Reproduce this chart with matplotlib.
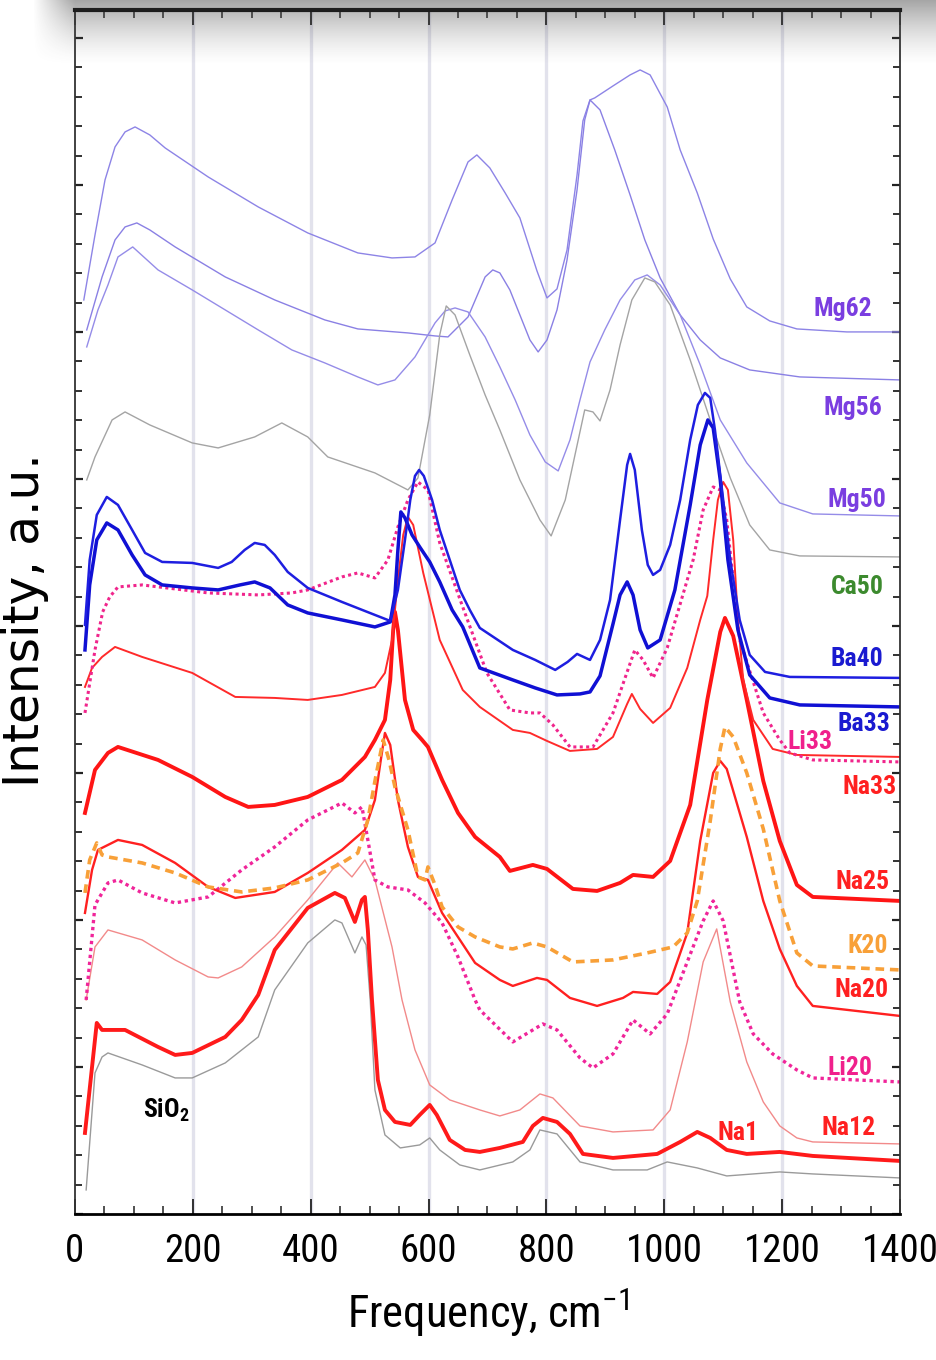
import matplotlib.pyplot as plt
import numpy as np
from matplotlib.ticker import MultipleLocator

plt.rcParams['font.family'] = ['Roboto Condensed', 'Liberation Sans Narrow', 'Liberation Sans', 'DejaVu Sans']

# Raman spectra, stacked (frequency in cm-1, intensity in a.u. incl. offset)
mg62_f = [15, 34, 51, 68, 85, 102, 127, 153, 226, 311, 395, 480, 538, 577, 611, 640, 667, 682, 704, 730, 755,
          784, 801, 818, 835, 852, 862, 874, 882, 913, 942, 959, 976, 1005, 1027, 1056, 1083, 1112, 1140, 1179,
          1225, 1310, 1400]
mg62_i = [914, 979, 1034, 1067, 1082, 1087, 1079, 1066, 1037, 1007, 981, 961, 956, 957, 971, 1014, 1052, 1059,
          1046, 1021, 996, 943, 916, 925, 964, 1039, 1093, 1114, 1116, 1128, 1139, 1144, 1139, 1107, 1064, 1021,
          975, 935, 907, 893, 885, 882, 882]

mg56_f = [20, 46, 68, 85, 105, 127, 170, 255, 339, 424, 480, 565, 611, 633, 667, 696, 709, 721, 738, 755, 772,
          786, 801, 818, 835, 852, 865, 874, 891, 916, 942, 967, 993, 1027, 1061, 1095, 1145, 1230, 1400]
mg56_i = [884, 937, 974, 987, 991, 984, 967, 937, 914, 894, 885, 881, 878, 877, 897, 937, 944, 941, 924, 899,
          874, 862, 874, 904, 954, 1024, 1094, 1114, 1104, 1064, 1019, 974, 936, 899, 874, 856, 844, 837, 834]

mg50_f = [20, 39, 56, 73, 98, 141, 199, 255, 311, 368, 424, 480, 514, 543, 577, 611, 628, 645, 667, 696, 721,
          747, 772, 798, 820, 840, 857, 874, 899, 925, 950, 971, 993, 1027, 1061, 1095, 1140, 1196, 1252, 1400]
mg50_i = [867, 904, 929, 957, 967, 944, 924, 904, 884, 864, 851, 837, 829, 834, 857, 891, 903, 906, 902, 877,
          847, 814, 779, 752, 743, 774, 814, 852, 884, 914, 934, 939, 929, 899, 849, 794, 751, 711, 700, 698]

ca50_f = [20, 34, 63, 85, 127, 199, 243, 305, 351, 395, 429, 509, 565, 582, 602, 619, 630, 645, 670, 696, 721,
          755, 789, 808, 832, 854, 865, 879, 891, 908, 925, 945, 967, 984, 1010, 1044, 1078, 1112, 1145, 1179,
          1230, 1400]
ca50_i = [734, 757, 794, 802, 789, 771, 766, 777, 791, 777, 757, 741, 724, 736, 799, 879, 908, 899, 859, 819,
          784, 734, 694, 678, 714, 774, 804, 802, 793, 824, 869, 914, 936, 932, 909, 854, 794, 736, 689, 664,
          658, 657]

ba40_f = [17, 25, 37, 54, 73, 97, 119, 148, 199, 243, 266, 288, 305, 322, 339, 361, 395, 453, 509, 535, 548,
          560, 569, 577, 584, 592, 606, 619, 636, 653, 670, 687, 743, 781, 815, 836, 852, 874, 891, 908, 925,
          937, 942, 950, 962, 972, 981, 993, 1010, 1027, 1044, 1057, 1069, 1078, 1086, 1098, 1112, 1128, 1145,
          1171, 1213, 1400]
ba40_i = [589, 654, 699, 717, 709, 684, 661, 652, 651, 646, 652, 664, 671, 669, 659, 642, 626, 612, 599, 593,
          624, 674, 714, 738, 744, 738, 714, 684, 654, 624, 604, 586, 564, 554, 544, 552, 560, 554, 574, 614,
          694, 749, 760, 744, 684, 649, 639, 644, 669, 714, 774, 809, 821, 816, 784, 724, 654, 594, 559, 542,
          537, 536]

ba33_f = [17, 25, 37, 54, 73, 97, 119, 148, 199, 243, 280, 305, 331, 361, 395, 453, 509, 535, 543, 548, 553,
          560, 572, 585, 602, 619, 640, 658, 687, 743, 781, 818, 857, 874, 891, 913, 925, 937, 947, 959, 972,
          993, 1018, 1044, 1061, 1074, 1083, 1095, 1108, 1125, 1145, 1179, 1230, 1400]
ba33_i = [564, 629, 674, 691, 684, 659, 639, 629, 626, 624, 629, 632, 626, 609, 601, 594, 587, 592, 619, 664,
          702, 696, 679, 667, 652, 632, 604, 587, 546, 534, 526, 519, 520, 522, 538, 590, 619, 632, 619, 584,
          566, 574, 624, 709, 769, 794, 786, 734, 654, 584, 539, 516, 509, 507]

li33_f = [17, 34, 47, 59, 73, 114, 226, 311, 368, 395, 453, 480, 509, 531, 548, 565, 582, 599, 619, 658, 699,
          738, 772, 789, 811, 840, 879, 913, 937, 950, 964, 981, 1005, 1027, 1049, 1066, 1083, 1095, 1106, 1117,
          1128, 1168, 1196, 1213, 1252, 1400]
li33_i = [501, 564, 602, 617, 627, 629, 621, 619, 621, 624, 637, 641, 636, 654, 687, 714, 732, 724, 671, 607,
          541, 504, 501, 501, 489, 467, 467, 501, 542, 564, 554, 536, 566, 610, 654, 704, 727, 724, 694, 634,
          574, 501, 474, 461, 454, 452]

na33_f = [17, 29, 46, 68, 114, 199, 272, 339, 395, 453, 509, 526, 538, 548, 557, 565, 574, 591, 619, 658, 687,
          743, 772, 801, 840, 886, 913, 937, 945, 959, 981, 1010, 1039, 1061, 1073, 1083, 1091, 1100, 1108, 1117,
          1125, 1134, 1151, 1184, 1225, 1400]
na33_i = [527, 546, 557, 567, 557, 541, 517, 516, 514, 519, 527, 541, 574, 634, 679, 697, 689, 641, 574, 524,
          507, 484, 481, 473, 463, 465, 477, 510, 520, 505, 491, 506, 546, 594, 618, 674, 714, 732, 724, 674,
          594, 534, 494, 465, 459, 457]

na25_f = [17, 34, 56, 73, 141, 199, 255, 294, 339, 395, 453, 492, 509, 526, 535, 540, 543, 548, 560, 574, 589,
          599, 623, 650, 679, 721, 738, 777, 801, 845, 886, 925, 947, 981, 1010, 1044, 1073, 1095, 1103, 1117,
          1140, 1168, 1196, 1225, 1252, 1400]
na25_i = [401, 444, 461, 467, 454, 437, 417, 407, 409, 417, 434, 457, 474, 494, 534, 584, 602, 584, 514, 484,
          474, 467, 434, 401, 377, 357, 343, 349, 345, 325, 323, 331, 339, 337, 353, 409, 514, 582, 596, 578,
          514, 433, 373, 329, 317, 313]

k20_f = [17, 25, 37, 46, 56, 114, 170, 226, 283, 339, 395, 453, 480, 497, 511, 523, 533, 543, 565, 582, 594,
         599, 611, 623, 650, 679, 721, 743, 777, 801, 845, 913, 971, 1015, 1039, 1056, 1078, 1095, 1103, 1117,
         1140, 1168, 1196, 1225, 1252, 1400]
k20_i = [321, 354, 371, 359, 357, 351, 341, 327, 322, 326, 334, 351, 361, 394, 439, 474, 454, 427, 384, 337,
         334, 347, 329, 307, 287, 277, 267, 265, 271, 267, 252, 254, 261, 267, 281, 313, 393, 465, 487, 477,
         441, 385, 313, 261, 248, 244]

na20_f = [17, 29, 39, 73, 114, 170, 226, 272, 339, 395, 453, 492, 509, 519, 526, 535, 548, 565, 582, 599, 623,
          679, 721, 743, 784, 801, 840, 886, 930, 947, 988, 1010, 1039, 1061, 1083, 1095, 1106, 1140, 1168, 1196,
          1225, 1252, 1400]
na20_i = [301, 344, 364, 374, 369, 351, 327, 316, 322, 341, 364, 384, 414, 454, 481, 469, 414, 367, 337, 334,
          301, 251, 234, 228, 236, 234, 216, 208, 216, 222, 220, 232, 281, 373, 441, 453, 445, 377, 313, 265,
          228, 208, 198]

li20_f = [19, 34, 56, 73, 114, 170, 226, 283, 339, 395, 453, 475, 487, 497, 509, 531, 565, 594, 623, 650, 679,
          687, 743, 777, 794, 818, 857, 879, 913, 947, 976, 1005, 1039, 1066, 1083, 1100, 1128, 1151, 1184, 1225,
          1252, 1400]
li20_i = [214, 309, 331, 334, 321, 311, 317, 344, 367, 394, 411, 401, 407, 374, 334, 327, 324, 311, 291, 257,
          214, 204, 172, 184, 190, 184, 156, 146, 160, 194, 180, 200, 252, 293, 313, 293, 212, 180, 160, 144,
          136, 132]

na12_f = [19, 34, 56, 114, 170, 226, 243, 283, 339, 395, 446, 470, 492, 509, 538, 555, 577, 602, 636, 687, 721,
          755, 789, 811, 857, 913, 981, 1010, 1039, 1066, 1089, 1112, 1140, 1168, 1196, 1225, 1252, 1400]
na12_i = [214, 267, 284, 274, 254, 237, 236, 247, 277, 314, 351, 337, 354, 334, 267, 214, 164, 129, 114, 104,
          98, 104, 120, 116, 88, 82, 84, 104, 172, 252, 285, 212, 152, 112, 88, 76, 72, 70]

na1_f = [17, 29, 37, 46, 85, 141, 170, 199, 255, 283, 311, 339, 395, 441, 458, 475, 487, 492, 497, 504, 514,
         526, 543, 569, 585, 602, 614, 636, 662, 687, 721, 760, 777, 794, 818, 840, 862, 913, 988, 1027, 1056,
         1078, 1106, 1140, 1196, 1252, 1400]
na1_i = [81, 147, 191, 184, 184, 167, 159, 161, 177, 194, 219, 264, 306, 321, 316, 292, 314, 317, 284, 214, 134,
         104, 92, 89, 99, 109, 99, 74, 64, 62, 66, 72, 88, 96, 92, 80, 60, 56, 60, 72, 82, 76, 64, 60, 62, 58, 53]

sio2_f = [19, 34, 46, 56, 114, 170, 199, 255, 311, 339, 395, 441, 453, 475, 487, 494, 501, 509, 526, 552, 585,
          602, 619, 653, 687, 743, 772, 789, 818, 857, 913, 971, 1005, 1056, 1106, 1196, 1252, 1400]
sio2_i = [24, 141, 157, 161, 149, 136, 136, 151, 177, 224, 271, 294, 291, 261, 277, 269, 214, 124, 79, 66, 69,
          76, 64, 49, 44, 52, 64, 84, 80, 52, 44, 44, 52, 46, 38, 42, 40, 36]

# (freq, intensity, colour, width, linestyle)
spectra = [
    (mg62_f, mg62_i, '#8d84e6', 1.0, '-'),
    (mg56_f, mg56_i, '#8a80e4', 1.0, '-'),
    (mg50_f, mg50_i, '#958ce8', 1.0, '-'),
    (ca50_f, ca50_i, '#a4a4a4', 1.0, '-'),
    (sio2_f, sio2_i, '#9a9a9a', 1.0, '-'),
    (na12_f, na12_i, '#f28a8a', 1.0, '-'),
    (na1_f, na1_i, '#ff1a1a', 2.8, '-'),
    (li20_f, li20_i, '#f0259a', 2.4, (0, (1.0, 1.1))),
    (na20_f, na20_i, '#ff2020', 1.7, '-'),
    (k20_f, k20_i, '#f8a038', 2.6, (0, (2.4, 1.6))),
    (na25_f, na25_i, '#ff1515', 2.8, '-'),
    (na33_f, na33_i, '#ff2a2a', 1.4, '-'),
    (li33_f, li33_i, '#f0258c', 2.2, (0, (1.0, 1.1))),
    (ba33_f, ba33_i, '#1010d4', 2.5, '-'),
    (ba40_f, ba40_i, '#1e1ee0', 1.8, '-'),
]

# curve labels: text, freq, intensity, colour
labels = [
    ('Mg62', 1303, 905, '#7a3ee0'),
    ('Mg56', 1320, 806, '#7a3ee0'),
    ('Mg50', 1327, 714, '#7a3ee0'),
    ('Ca50', 1327, 627, '#3c8a2e'),
    ('Ba40', 1327, 555, '#1a1ad0'),
    ('Ba33', 1339, 490, '#1a1ad0'),
    ('Li33', 1247, 472, '#f0208c'),
    ('Na33', 1349, 427, '#ff2020'),
    ('Na25', 1337, 332, '#ff2020'),
    ('K20', 1346, 268, '#f8a038'),
    ('Na20', 1334, 224, '#ff2020'),
    ('Li20', 1315, 146, '#f0208c'),
    ('Na12', 1312, 86, '#ff2020'),
    ('Na1', 1125, 81, '#ff2020'),
]

fig = plt.figure(figsize=(9.37, 13.6), dpi=100)
ax = fig.add_axes([0.080, 0.1074, 0.8805, 0.8853])

for x in range(200, 1400, 200):
    ax.axvline(x, color='#e2e2ec', lw=2.4, zorder=0)

for f, i, c, lw, ls in spectra:
    ax.plot(f, i, color=c, lw=lw, ls=ls, solid_joinstyle='round', zorder=2)

for txt, f, i, c in labels:
    ax.text(f, i, txt, color=c, fontsize=18.5, fontweight='bold', ha='center', va='center', zorder=3)
ax.text(155, 104, 'SiO$_\\mathregular{2}$', color='black', fontsize=18.5, fontweight='bold',
        ha='center', va='center', zorder=3)

ax.set_xlim(0, 1400)
ax.set_ylim(0, 1204)
ax.xaxis.set_major_locator(MultipleLocator(200))
ax.xaxis.set_minor_locator(MultipleLocator(50))
ax.yaxis.set_major_locator(MultipleLocator(147))
ax.yaxis.set_minor_locator(MultipleLocator(29.4))
ax.tick_params(which='both', direction='in', top=True, right=True, color='#222222')
ax.tick_params(axis='x', which='major', length=11, width=1.3, labelsize=28, pad=14)
ax.tick_params(axis='x', which='minor', length=6, width=1.1)
ax.tick_params(axis='y', which='major', length=6, width=1.6, labelleft=False)
ax.tick_params(axis='y', which='minor', length=5, width=1.3)
for side in ['left', 'right']:
    ax.spines[side].set_linewidth(1.3)
    ax.spines[side].set_color('#333333')
ax.spines['bottom'].set_linewidth(2.0)
ax.spines['top'].set_linewidth(3.0)

ax.set_xlabel('Frequency, cm$^{\\mathregular{-1}}$', fontsize=32, labelpad=12)
fig.text(0.027, 1 - 620 / 1360, 'Intensity, a.u.', rotation=90, ha='center', va='center',
         fontsize=35, family='DejaVu Sans')

# soft shadow along the top edge
h, w = 110, 937
yy = np.linspace(0, 1, h)[:, None]
xx = np.linspace(0, 1, w)[None, :]
fade_y = np.clip(1 - yy / 0.6, 0, 1) ** 1.5
fade_x = np.clip((xx - 0.035) / 0.045, 0, 1)
shadow = np.zeros((h, w, 4))
shadow[..., :3] = 0.3
shadow[..., 3] = 0.5 * fade_y * fade_x
sax = fig.add_axes([0, 1 - h / 1360, 1, h / 1360], zorder=5)
sax.imshow(shadow, aspect='auto', interpolation='bilinear')
sax.axis('off')

fig.savefig('out.png', dpi=100)
